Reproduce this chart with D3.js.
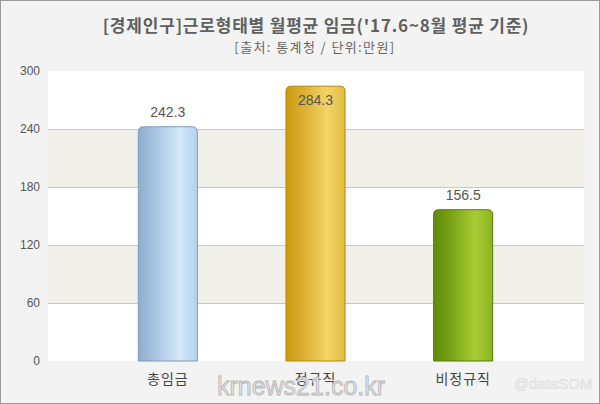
<!DOCTYPE html>
<html>
<head>
<meta charset="utf-8">
<script src="https://cdn.jsdelivr.net/npm/d3@7"></script>
<style>
  body { margin: 0; background: #fff; }
  text { font-family: "Noto Sans CJK KR", "Noto Sans", sans-serif; }
</style>
</head>
<body>
<div id="chart"></div>
<script>
// data
var categories = ["총임금", "정규직", "비정규직"];
var values = [242.3, 284.3, 156.5];
var yTicks = [0, 60, 120, 180, 240, 300];

var svgWidth = 600;
var svgHeight = 404;

var plot = { left: 48, right: 584, top: 71, bottom: 361 };

var svg = d3.select("#chart")
  .append("svg")
  .attr("width", svgWidth)
  .attr("height", svgHeight);

// gradients for the bars
var defs = svg.append("defs");
var barColors = [
  ["#8eadcd", "#a9c6e2", "#d3e8f8", "#b4d2ec"],
  ["#c99a12", "#dcb030", "#f3d468", "#e0bc40"],
  ["#5f8a0c", "#78a416", "#a8cc34", "#8cb422"]
];
barColors.forEach(function(c, i) {
  var g = defs.append("linearGradient")
    .attr("id", "bar" + i)
    .attr("x1", "0").attr("x2", "1").attr("y1", "0").attr("y2", "0");
  g.append("stop").attr("offset", "0%").attr("stop-color", c[0]);
  g.append("stop").attr("offset", "30%").attr("stop-color", c[1]);
  g.append("stop").attr("offset", "70%").attr("stop-color", c[2]);
  g.append("stop").attr("offset", "100%").attr("stop-color", c[3]);
});

// outer background + frame
svg.append("rect")
  .attr("x", 0.5).attr("y", 0.5)
  .attr("width", svgWidth - 1).attr("height", svgHeight - 1)
  .attr("fill", "#f3f3f3")
  .attr("stroke", "#9a9a9a");

// scales
var y = d3.scaleLinear()
  .domain([0, 300])
  .range([plot.bottom, plot.top]);

var x = d3.scaleBand()
  .domain(categories)
  .range([94, 537])
  .paddingInner(0.6)
  .paddingOuter(0.3);

// plot area
svg.append("rect")
  .attr("x", plot.left).attr("y", plot.top)
  .attr("width", plot.right - plot.left)
  .attr("height", plot.bottom - plot.top)
  .attr("fill", "#ffffff");

// alternating bands
[[60, 120], [180, 240]].forEach(function(b) {
  svg.append("rect")
    .attr("x", plot.left)
    .attr("y", y(b[1]))
    .attr("width", plot.right - plot.left)
    .attr("height", y(b[0]) - y(b[1]))
    .attr("fill", "#f0f0e9");
});

// gridlines
svg.append("g")
  .selectAll("line")
  .data(yTicks.filter(function(d) { return d > 0 && d < 300; }))
  .enter()
  .append("line")
  .attr("x1", plot.left).attr("x2", plot.right)
  .attr("y1", function(d) { return Math.round(y(d)) + 0.5; })
  .attr("y2", function(d) { return Math.round(y(d)) + 0.5; })
  .attr("stroke", "#c9c9c0");

// y axis
var leftAxis = d3.axisLeft(y)
  .tickValues(yTicks)
  .tickSize(0)
  .tickPadding(8);

var yAxis = svg.append("g")
  .attr("transform", "translate(" + plot.left + ",0)")
  .call(leftAxis);
yAxis.select(".domain").remove();
yAxis.selectAll("text")
  .attr("fill", "#555")
  .style("font-size", "12px")
  .style("font-family", "Liberation Sans, Arial, sans-serif");

// bars
svg.append("g")
  .selectAll("path")
  .data(values)
  .enter()
  .append("path")
  .attr("d", function(d, i) {
    var x0 = x(categories[i]), w = x.bandwidth();
    var top = y(d), bot = y(0), r = 5;
    return "M" + x0 + "," + bot +
      "V" + (top + r) +
      "Q" + x0 + "," + top + " " + (x0 + r) + "," + top +
      "H" + (x0 + w - r) +
      "Q" + (x0 + w) + "," + top + " " + (x0 + w) + "," + (top + r) +
      "V" + bot + "Z";
  })
  .attr("fill", function(d, i) { return "url(#bar" + i + ")"; })
  .attr("stroke", function(d, i) { return ["#7f9cbb", "#b38a10", "#557d08"][i]; })
  .attr("stroke-width", 1);

// value labels
svg.append("g")
  .selectAll("text")
  .data(values)
  .enter()
  .append("text")
  .attr("x", function(d, i) { return x(categories[i]) + x.bandwidth() / 2; })
  .attr("y", function(d) {
    var top = y(d);
    // label goes inside the bar when there's no room above
    return top - 15 < plot.top + 10 ? top + 19 : top - 10;
  })
  .attr("text-anchor", "middle")
  .attr("fill", "#555")
  .style("font-size", "14px")
  .style("font-family", "Liberation Sans, Arial, sans-serif")
  .text(function(d) { return d.toFixed(1); });

// x labels
svg.append("g")
  .selectAll("text")
  .data(categories)
  .enter()
  .append("text")
  .attr("x", function(d) { return x(d) + x.bandwidth() / 2; })
  .attr("y", 384)
  .attr("text-anchor", "middle")
  .attr("fill", "#444")
  .style("font-size", "14px")
  .style("letter-spacing", "1px")
  .text(function(d) { return d; });

// title
svg.append("text")
  .attr("x", 316).attr("y", 32)
  .attr("text-anchor", "middle")
  .attr("fill", "#606060")
  .style("font-size", "17px")
  .style("font-weight", "bold")
  .style("letter-spacing", "0.8px")
  .text("[경제인구]근로형태별 월평균 임금('17.6~8월 평균 기준)");

svg.append("text")
  .attr("x", 315).attr("y", 52)
  .attr("text-anchor", "middle")
  .attr("fill", "#666")
  .style("font-size", "13px")
  .style("letter-spacing", "1.4px")
  .text("[출처: 통계청 / 단위:만원]");

// watermarks
svg.append("text")
  .attr("x", 301).attr("y", 395)
  .attr("text-anchor", "middle")
  .attr("fill", "#e6e6e6")
  .attr("stroke", "#b4b4b4")
  .attr("stroke-width", 0.8)
  .style("font-size", "25px")
  .style("font-family", "Liberation Sans, Arial, sans-serif")
  .text("krnews21.co.kr");

svg.append("text")
  .attr("x", 553).attr("y", 389)
  .attr("text-anchor", "middle")
  .attr("fill", "#ececec")
  .attr("stroke", "#dcdcdc")
  .attr("stroke-width", 0.5)
  .style("font-size", "15px")
  .style("font-family", "Liberation Sans, Arial, sans-serif")
  .text("@dataSOM");
</script>
</body>
</html>
